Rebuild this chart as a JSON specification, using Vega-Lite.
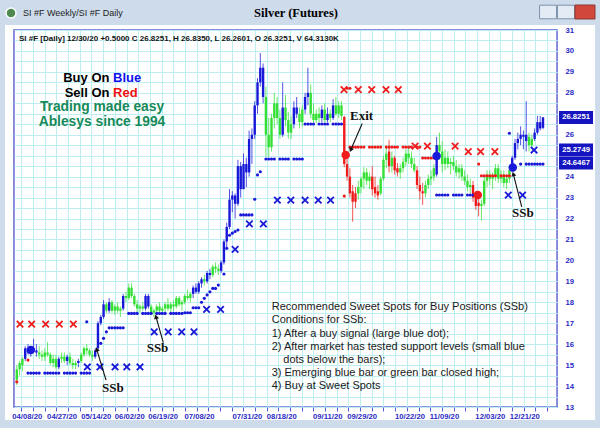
{
"$schema":"https://vega.github.io/schema/vega-lite/v6.json",
"width":543,"height":377,
"autosize":{"type":"none"},
"padding":{"left":14,"top":30,"right":43,"bottom":21},
"background":"#cddbeb",
"view":{"fill":"#ffffff","stroke":"#6e6ed6","strokeWidth":1.5},
"config":{"font":"Liberation Sans"},
"resolve":{"axis":{"x":"independent","y":"independent"}},
"datasets":{
"bars":[
{"i":0,"o":14.3,"h":15.0,"l":14.05,"c":14.8,"k":"g"},
{"i":1,"o":14.8,"h":15.2,"l":14.5,"c":15.1,"k":"g"},
{"i":2,"o":15.0,"h":15.4,"l":14.7,"c":15.3,"k":"g"},
{"i":3,"o":15.3,"h":15.9,"l":15.2,"c":15.8,"k":"b"},
{"i":4,"o":15.8,"h":16.0,"l":15.5,"c":15.6,"k":"b"},
{"i":5,"o":15.6,"h":15.9,"l":15.4,"c":15.8,"k":"b"},
{"i":6,"o":15.8,"h":16.25,"l":15.6,"c":15.7,"k":"b"},
{"i":7,"o":15.7,"h":16.0,"l":15.4,"c":15.6,"k":"b"},
{"i":8,"o":15.6,"h":15.9,"l":15.3,"c":15.5,"k":"g"},
{"i":9,"o":15.5,"h":15.7,"l":15.2,"c":15.4,"k":"g"},
{"i":10,"o":15.4,"h":15.8,"l":15.2,"c":15.6,"k":"g"},
{"i":11,"o":15.6,"h":16.1,"l":15.4,"c":15.5,"k":"g"},
{"i":12,"o":15.5,"h":15.6,"l":15.0,"c":15.1,"k":"g"},
{"i":13,"o":15.1,"h":15.5,"l":14.9,"c":15.3,"k":"g"},
{"i":14,"o":15.3,"h":15.5,"l":14.8,"c":14.9,"k":"g"},
{"i":15,"o":14.9,"h":15.4,"l":14.8,"c":15.3,"k":"b"},
{"i":16,"o":15.3,"h":15.6,"l":15.1,"c":15.4,"k":"g"},
{"i":17,"o":15.4,"h":15.6,"l":15.1,"c":15.2,"k":"g"},
{"i":18,"o":15.2,"h":15.5,"l":15.0,"c":15.4,"k":"b"},
{"i":19,"o":15.4,"h":15.6,"l":15.0,"c":15.1,"k":"g"},
{"i":20,"o":15.1,"h":15.3,"l":14.8,"c":15.0,"k":"g"},
{"i":21,"o":15.0,"h":15.2,"l":14.8,"c":15.1,"k":"g"},
{"i":22,"o":15.1,"h":15.3,"l":14.9,"c":15.2,"k":"b"},
{"i":23,"o":15.2,"h":15.6,"l":15.1,"c":15.5,"k":"g"},
{"i":24,"o":15.5,"h":15.9,"l":15.4,"c":15.8,"k":"g"},
{"i":25,"o":15.8,"h":16.0,"l":15.5,"c":15.7,"k":"g"},
{"i":26,"o":15.7,"h":15.8,"l":15.4,"c":15.5,"k":"g"},
{"i":27,"o":15.5,"h":15.7,"l":15.2,"c":15.4,"k":"g"},
{"i":28,"o":15.4,"h":15.8,"l":15.3,"c":15.7,"k":"b"},
{"i":29,"o":15.8,"h":17.1,"l":15.7,"c":17.0,"k":"b"},
{"i":30,"o":17.0,"h":17.4,"l":16.9,"c":17.3,"k":"b"},
{"i":31,"o":17.3,"h":18.1,"l":17.2,"c":17.9,"k":"b"},
{"i":32,"o":17.9,"h":18.0,"l":17.5,"c":17.6,"k":"g"},
{"i":33,"o":17.6,"h":18.2,"l":17.5,"c":18.0,"k":"b"},
{"i":34,"o":18.0,"h":18.1,"l":17.5,"c":17.6,"k":"g"},
{"i":35,"o":17.6,"h":17.9,"l":17.4,"c":17.8,"k":"g"},
{"i":36,"o":17.8,"h":18.0,"l":17.5,"c":17.6,"k":"g"},
{"i":37,"o":17.6,"h":17.8,"l":17.3,"c":17.7,"k":"g"},
{"i":38,"o":17.7,"h":18.4,"l":17.6,"c":18.3,"k":"b"},
{"i":39,"o":18.3,"h":18.5,"l":18.0,"c":18.2,"k":"g"},
{"i":40,"o":18.2,"h":18.9,"l":18.1,"c":18.7,"k":"g"},
{"i":41,"o":18.7,"h":18.9,"l":18.2,"c":18.3,"k":"g"},
{"i":42,"o":18.3,"h":18.4,"l":17.8,"c":17.9,"k":"g"},
{"i":43,"o":17.9,"h":18.1,"l":17.5,"c":17.7,"k":"g"},
{"i":44,"o":17.7,"h":17.9,"l":17.5,"c":17.8,"k":"g"},
{"i":45,"o":17.8,"h":18.0,"l":17.6,"c":17.7,"k":"g"},
{"i":46,"o":17.7,"h":18.4,"l":17.6,"c":18.3,"k":"b"},
{"i":47,"o":18.3,"h":18.4,"l":17.7,"c":17.8,"k":"b"},
{"i":48,"o":17.8,"h":17.9,"l":17.4,"c":17.5,"k":"g"},
{"i":49,"o":17.5,"h":17.7,"l":17.3,"c":17.6,"k":"g"},
{"i":50,"o":17.6,"h":17.9,"l":17.4,"c":17.8,"k":"g"},
{"i":51,"o":17.8,"h":18.0,"l":17.5,"c":17.6,"k":"g"},
{"i":52,"o":17.6,"h":17.8,"l":17.4,"c":17.7,"k":"g"},
{"i":53,"o":17.7,"h":18.0,"l":17.5,"c":17.9,"k":"g"},
{"i":54,"o":17.9,"h":18.2,"l":17.6,"c":17.7,"k":"g"},
{"i":55,"o":17.7,"h":18.0,"l":17.5,"c":17.9,"k":"g"},
{"i":56,"o":17.9,"h":18.1,"l":17.6,"c":17.8,"k":"g"},
{"i":57,"o":17.8,"h":18.3,"l":17.7,"c":18.2,"k":"g"},
{"i":58,"o":18.2,"h":18.3,"l":17.8,"c":17.9,"k":"g"},
{"i":59,"o":17.9,"h":18.1,"l":17.6,"c":18.0,"k":"g"},
{"i":60,"o":18.0,"h":18.4,"l":17.9,"c":18.3,"k":"g"},
{"i":61,"o":18.3,"h":18.6,"l":18.1,"c":18.2,"k":"g"},
{"i":62,"o":18.2,"h":18.5,"l":18.0,"c":18.4,"k":"g"},
{"i":63,"o":18.4,"h":18.8,"l":18.2,"c":18.7,"k":"b"},
{"i":64,"o":18.7,"h":18.9,"l":18.4,"c":18.5,"k":"b"},
{"i":65,"o":18.5,"h":19.0,"l":18.4,"c":18.9,"k":"b"},
{"i":66,"o":18.9,"h":19.2,"l":18.7,"c":19.1,"k":"b"},
{"i":67,"o":19.1,"h":19.3,"l":18.8,"c":19.0,"k":"g"},
{"i":68,"o":19.0,"h":19.5,"l":18.9,"c":19.4,"k":"b"},
{"i":69,"o":19.4,"h":19.6,"l":19.1,"c":19.3,"k":"b"},
{"i":70,"o":19.3,"h":19.8,"l":19.2,"c":19.7,"k":"g"},
{"i":71,"o":19.7,"h":19.9,"l":19.4,"c":19.6,"k":"g"},
{"i":72,"o":19.6,"h":19.8,"l":19.3,"c":19.5,"k":"g"},
{"i":73,"o":19.5,"h":20.0,"l":19.4,"c":19.9,"k":"b"},
{"i":74,"o":19.9,"h":21.0,"l":19.8,"c":20.9,"k":"b"},
{"i":75,"o":20.9,"h":21.8,"l":20.5,"c":21.6,"k":"b"},
{"i":76,"o":21.6,"h":23.4,"l":21.5,"c":22.9,"k":"b"},
{"i":77,"o":22.9,"h":23.3,"l":22.3,"c":23.1,"k":"b"},
{"i":78,"o":23.1,"h":23.2,"l":22.0,"c":22.7,"k":"b"},
{"i":79,"o":22.7,"h":24.8,"l":22.6,"c":24.5,"k":"b"},
{"i":80,"o":24.5,"h":24.7,"l":23.0,"c":23.4,"k":"b"},
{"i":81,"o":23.4,"h":25.1,"l":23.4,"c":24.6,"k":"b"},
{"i":82,"o":24.6,"h":24.9,"l":23.5,"c":24.2,"k":"b"},
{"i":83,"o":24.2,"h":26.2,"l":24.0,"c":25.8,"k":"b"},
{"i":84,"o":25.8,"h":26.3,"l":24.6,"c":26.0,"k":"b"},
{"i":85,"o":26.0,"h":27.6,"l":25.8,"c":27.4,"k":"b"},
{"i":86,"o":27.4,"h":28.7,"l":27.0,"c":28.5,"k":"b"},
{"i":87,"o":28.5,"h":29.9,"l":28.3,"c":29.2,"k":"b"},
{"i":88,"o":29.2,"h":29.4,"l":27.5,"c":27.8,"k":"b"},
{"i":89,"o":27.8,"h":28.3,"l":24.95,"c":26.0,"k":"g"},
{"i":90,"o":26.0,"h":26.8,"l":24.95,"c":25.4,"k":"g"},
{"i":91,"o":25.4,"h":27.0,"l":25.2,"c":26.8,"k":"g"},
{"i":92,"o":26.8,"h":28.0,"l":26.3,"c":27.5,"k":"g"},
{"i":93,"o":27.5,"h":27.8,"l":26.5,"c":26.8,"k":"g"},
{"i":94,"o":26.8,"h":27.2,"l":25.8,"c":26.0,"k":"g"},
{"i":95,"o":26.0,"h":28.5,"l":25.9,"c":27.3,"k":"b"},
{"i":96,"o":27.3,"h":27.9,"l":26.4,"c":26.7,"k":"g"},
{"i":97,"o":26.7,"h":27.1,"l":25.8,"c":26.1,"k":"g"},
{"i":98,"o":26.1,"h":26.9,"l":25.8,"c":26.5,"k":"g"},
{"i":99,"o":26.5,"h":27.6,"l":26.3,"c":27.3,"k":"b"},
{"i":100,"o":27.3,"h":27.8,"l":26.8,"c":27.0,"k":"b"},
{"i":101,"o":27.0,"h":27.3,"l":26.3,"c":26.6,"k":"g"},
{"i":102,"o":26.6,"h":27.4,"l":26.4,"c":27.2,"k":"g"},
{"i":103,"o":27.2,"h":28.0,"l":27.0,"c":27.8,"k":"b"},
{"i":104,"o":27.8,"h":29.2,"l":27.4,"c":28.0,"k":"b"},
{"i":105,"o":28.0,"h":28.4,"l":26.8,"c":27.0,"k":"g"},
{"i":106,"o":27.0,"h":27.5,"l":26.6,"c":26.7,"k":"g"},
{"i":107,"o":26.7,"h":27.2,"l":26.55,"c":27.0,"k":"g"},
{"i":108,"o":27.0,"h":27.3,"l":26.6,"c":26.8,"k":"g"},
{"i":109,"o":26.8,"h":27.4,"l":26.6,"c":27.2,"k":"b"},
{"i":110,"o":27.2,"h":27.5,"l":26.6,"c":26.7,"k":"g"},
{"i":111,"o":26.7,"h":27.3,"l":26.6,"c":27.0,"k":"b"},
{"i":112,"o":27.0,"h":27.2,"l":26.6,"c":26.8,"k":"g"},
{"i":113,"o":26.8,"h":27.7,"l":26.7,"c":27.4,"k":"b"},
{"i":114,"o":27.4,"h":27.8,"l":26.9,"c":27.0,"k":"g"},
{"i":115,"o":27.0,"h":27.6,"l":26.8,"c":27.4,"k":"g"},
{"i":116,"o":27.4,"h":27.6,"l":26.7,"c":26.9,"k":"g"},
{"i":117,"o":26.85,"h":26.9,"l":24.45,"c":24.6,"k":"r"},
{"i":118,"o":24.6,"h":24.95,"l":23.8,"c":24.0,"k":"r"},
{"i":119,"o":24.0,"h":24.4,"l":23.0,"c":23.2,"k":"r"},
{"i":120,"o":23.3,"h":23.6,"l":21.85,"c":22.8,"k":"r"},
{"i":121,"o":22.8,"h":23.5,"l":22.5,"c":23.2,"k":"r"},
{"i":122,"o":23.2,"h":23.8,"l":22.9,"c":23.5,"k":"g"},
{"i":123,"o":23.5,"h":24.0,"l":23.2,"c":23.9,"k":"g"},
{"i":124,"o":23.9,"h":24.45,"l":23.4,"c":24.2,"k":"g"},
{"i":125,"o":24.2,"h":24.4,"l":23.6,"c":23.8,"k":"g"},
{"i":126,"o":23.8,"h":24.2,"l":23.4,"c":24.0,"k":"g"},
{"i":127,"o":24.0,"h":24.5,"l":23.1,"c":23.4,"k":"r"},
{"i":128,"o":23.5,"h":24.0,"l":23.0,"c":23.2,"k":"r"},
{"i":129,"o":23.3,"h":23.6,"l":22.9,"c":23.1,"k":"r"},
{"i":130,"o":23.2,"h":24.0,"l":23.1,"c":23.9,"k":"g"},
{"i":131,"o":23.9,"h":25.0,"l":23.8,"c":24.8,"k":"g"},
{"i":132,"o":24.8,"h":25.4,"l":24.4,"c":25.1,"k":"g"},
{"i":133,"o":25.2,"h":25.75,"l":24.2,"c":24.5,"k":"r"},
{"i":134,"o":24.5,"h":25.2,"l":24.2,"c":24.9,"k":"g"},
{"i":135,"o":24.9,"h":25.0,"l":24.1,"c":24.3,"k":"r"},
{"i":136,"o":24.4,"h":24.65,"l":24.0,"c":24.2,"k":"r"},
{"i":137,"o":24.2,"h":24.6,"l":23.9,"c":24.4,"k":"g"},
{"i":138,"o":24.4,"h":24.9,"l":24.2,"c":24.7,"k":"g"},
{"i":139,"o":24.7,"h":25.3,"l":24.5,"c":25.1,"k":"g"},
{"i":140,"o":25.1,"h":25.4,"l":24.6,"c":24.9,"k":"g"},
{"i":141,"o":24.9,"h":25.2,"l":24.4,"c":24.6,"k":"g"},
{"i":142,"o":24.6,"h":24.9,"l":24.2,"c":24.3,"k":"g"},
{"i":143,"o":24.3,"h":24.5,"l":23.4,"c":23.6,"k":"r"},
{"i":144,"o":23.6,"h":24.0,"l":22.9,"c":23.3,"k":"r"},
{"i":145,"o":23.3,"h":23.7,"l":22.65,"c":23.2,"k":"r"},
{"i":146,"o":23.2,"h":23.8,"l":23.0,"c":23.6,"k":"g"},
{"i":147,"o":23.6,"h":24.1,"l":23.4,"c":23.9,"k":"g"},
{"i":148,"o":23.9,"h":24.3,"l":23.6,"c":24.0,"k":"g"},
{"i":149,"o":24.0,"h":24.6,"l":23.8,"c":24.4,"k":"g"},
{"i":150,"o":24.1,"h":25.9,"l":24.0,"c":25.5,"k":"b"},
{"i":151,"o":25.5,"h":26.1,"l":24.8,"c":25.2,"k":"g"},
{"i":152,"o":25.2,"h":25.7,"l":24.2,"c":24.6,"k":"g"},
{"i":153,"o":24.6,"h":25.3,"l":24.3,"c":24.9,"k":"g"},
{"i":154,"o":24.9,"h":25.2,"l":24.4,"c":24.6,"k":"g"},
{"i":155,"o":24.6,"h":24.9,"l":24.1,"c":24.7,"k":"g"},
{"i":156,"o":24.7,"h":25.0,"l":24.3,"c":24.5,"k":"g"},
{"i":157,"o":24.5,"h":24.8,"l":24.0,"c":24.2,"k":"g"},
{"i":158,"o":24.2,"h":24.6,"l":23.9,"c":24.4,"k":"g"},
{"i":159,"o":24.4,"h":24.6,"l":23.8,"c":24.0,"k":"g"},
{"i":160,"o":24.0,"h":24.3,"l":23.6,"c":23.8,"k":"g"},
{"i":161,"o":23.8,"h":24.1,"l":23.3,"c":23.5,"k":"g"},
{"i":162,"o":23.5,"h":23.9,"l":23.2,"c":23.6,"k":"g"},
{"i":163,"o":23.6,"h":23.8,"l":22.8,"c":23.0,"k":"r"},
{"i":164,"o":23.0,"h":23.3,"l":22.4,"c":22.6,"k":"r"},
{"i":165,"o":22.6,"h":23.0,"l":22.1,"c":22.75,"k":"r"},
{"i":166,"o":22.6,"h":22.9,"l":21.9,"c":22.7,"k":"g"},
{"i":167,"o":22.7,"h":24.0,"l":22.6,"c":23.8,"k":"g"},
{"i":168,"o":23.8,"h":24.3,"l":23.5,"c":24.1,"k":"g"},
{"i":169,"o":24.1,"h":24.3,"l":23.6,"c":23.9,"k":"g"},
{"i":170,"o":23.9,"h":24.2,"l":23.4,"c":24.0,"k":"g"},
{"i":171,"o":24.0,"h":24.6,"l":23.8,"c":24.4,"k":"g"},
{"i":172,"o":24.4,"h":24.6,"l":23.7,"c":23.9,"k":"g"},
{"i":173,"o":23.9,"h":24.3,"l":23.7,"c":24.1,"k":"g"},
{"i":174,"o":24.1,"h":24.3,"l":23.5,"c":23.7,"k":"g"},
{"i":175,"o":23.7,"h":24.0,"l":23.4,"c":23.9,"k":"g"},
{"i":176,"o":23.9,"h":24.5,"l":23.7,"c":24.3,"k":"g"},
{"i":177,"o":24.3,"h":25.0,"l":24.2,"c":24.9,"k":"b"},
{"i":178,"o":24.9,"h":25.8,"l":24.8,"c":25.6,"k":"b"},
{"i":179,"o":25.6,"h":26.1,"l":25.3,"c":25.8,"k":"b"},
{"i":180,"o":25.8,"h":26.4,"l":25.5,"c":26.0,"k":"b"},
{"i":181,"o":26.0,"h":26.2,"l":25.3,"c":25.9,"k":"b"},
{"i":182,"o":25.7,"h":27.6,"l":25.2,"c":26.0,"k":"b"},
{"i":183,"o":25.9,"h":26.1,"l":25.2,"c":25.5,"k":"g"},
{"i":184,"o":25.5,"h":26.0,"l":25.3,"c":25.8,"k":"g"},
{"i":185,"o":25.8,"h":26.3,"l":25.7,"c":26.1,"k":"b"},
{"i":186,"o":26.1,"h":26.9,"l":26.0,"c":26.6,"k":"b"},
{"i":187,"o":26.6,"h":26.9,"l":26.2,"c":26.3,"k":"b"},
{"i":188,"o":26.33,"h":26.84,"l":26.26,"c":26.83,"k":"b"}
],
"dots":[
{"i":4,"p":14.62,"k":"b"},{"i":5,"p":14.62,"k":"b"},{"i":6,"p":14.62,"k":"b"},{"i":7,"p":14.62,"k":"b"},{"i":8,"p":14.62,"k":"b"},{"i":10,"p":14.62,"k":"b"},{"i":11,"p":14.62,"k":"b"},{"i":12,"p":14.62,"k":"b"},{"i":13,"p":14.62,"k":"b"},{"i":14,"p":14.62,"k":"b"},{"i":15,"p":14.62,"k":"b"},{"i":17,"p":14.62,"k":"b"},{"i":18,"p":14.62,"k":"b"},{"i":19,"p":14.62,"k":"b"},{"i":20,"p":14.62,"k":"b"},{"i":21,"p":14.62,"k":"b"},{"i":23,"p":14.62,"k":"b"},{"i":24,"p":14.62,"k":"b"},{"i":25,"p":14.62,"k":"b"},{"i":26,"p":14.62,"k":"b"},
{"i":25,"p":17.07,"k":"b"},
{"i":30,"p":16.04,"k":"b"},{"i":31,"p":16.28,"k":"b"},{"i":32,"p":16.59,"k":"b"},
{"i":33,"p":16.78,"k":"b"},{"i":34,"p":16.78,"k":"b"},{"i":35,"p":16.78,"k":"b"},{"i":36,"p":16.78,"k":"b"},{"i":37,"p":16.78,"k":"b"},{"i":38,"p":16.78,"k":"b"},
{"i":40,"p":17.47,"k":"b"},{"i":41,"p":17.47,"k":"b"},{"i":42,"p":17.47,"k":"b"},{"i":43,"p":17.47,"k":"b"},{"i":45,"p":17.47,"k":"b"},{"i":46,"p":17.47,"k":"b"},{"i":47,"p":17.47,"k":"b"},{"i":48,"p":17.47,"k":"b"},{"i":50,"p":17.47,"k":"b"},{"i":51,"p":17.47,"k":"b"},{"i":52,"p":17.47,"k":"b"},{"i":53,"p":17.47,"k":"b"},{"i":55,"p":17.47,"k":"b"},{"i":56,"p":17.47,"k":"b"},{"i":57,"p":17.47,"k":"b"},{"i":58,"p":17.47,"k":"b"},{"i":59,"p":17.47,"k":"b"},
{"i":60,"p":17.5,"k":"b"},{"i":61,"p":17.5,"k":"b"},{"i":62,"p":17.5,"k":"b"},{"i":63,"p":17.74,"k":"b"},{"i":64,"p":17.74,"k":"b"},{"i":65,"p":17.74,"k":"b"},
{"i":66,"p":18.0,"k":"b"},{"i":67,"p":18.19,"k":"b"},{"i":68,"p":18.35,"k":"b"},{"i":69,"p":18.5,"k":"b"},{"i":70,"p":18.66,"k":"b"},{"i":71,"p":18.66,"k":"b"},{"i":72,"p":18.82,"k":"b"},{"i":74,"p":19.35,"k":"b"},
{"i":75,"p":20.58,"k":"b"},{"i":76,"p":21.2,"k":"b"},{"i":77,"p":21.3,"k":"b"},{"i":78,"p":21.38,"k":"b"},{"i":79,"p":21.45,"k":"b"},{"i":80,"p":22.17,"k":"b"},{"i":81,"p":22.17,"k":"b"},{"i":82,"p":22.17,"k":"b"},{"i":83,"p":22.17,"k":"b"},{"i":84,"p":22.17,"k":"b"},{"i":85,"p":22.92,"k":"b"},{"i":86,"p":24.08,"k":"b"},{"i":87,"p":24.23,"k":"b"},
{"i":89,"p":24.84,"k":"b"},{"i":90,"p":24.84,"k":"b"},{"i":91,"p":24.84,"k":"b"},{"i":92,"p":24.84,"k":"b"},{"i":94,"p":24.84,"k":"b"},{"i":95,"p":24.84,"k":"b"},{"i":96,"p":24.84,"k":"b"},{"i":97,"p":24.84,"k":"b"},{"i":99,"p":24.84,"k":"b"},{"i":100,"p":24.84,"k":"b"},{"i":101,"p":24.84,"k":"b"},{"i":102,"p":24.84,"k":"b"},
{"i":103,"p":26.51,"k":"b"},{"i":104,"p":26.51,"k":"b"},{"i":105,"p":26.51,"k":"b"},{"i":106,"p":26.51,"k":"b"},{"i":108,"p":26.51,"k":"b"},{"i":109,"p":26.51,"k":"b"},{"i":110,"p":26.51,"k":"b"},{"i":111,"p":26.51,"k":"b"},{"i":113,"p":26.51,"k":"b"},{"i":114,"p":26.51,"k":"b"},{"i":115,"p":26.51,"k":"b"},{"i":116,"p":26.51,"k":"b"},
{"i":150,"p":23.12,"k":"b"},{"i":151,"p":23.12,"k":"b"},{"i":152,"p":23.12,"k":"b"},{"i":153,"p":23.12,"k":"b"},{"i":154,"p":23.12,"k":"b"},{"i":156,"p":23.12,"k":"b"},{"i":157,"p":23.12,"k":"b"},{"i":158,"p":23.12,"k":"b"},{"i":159,"p":23.12,"k":"b"},{"i":161,"p":23.12,"k":"b"},{"i":162,"p":23.12,"k":"b"},{"i":163,"p":23.12,"k":"b"},
{"i":180,"p":24.6,"k":"b"},{"i":182,"p":24.6,"k":"b"},{"i":183,"p":24.6,"k":"b"},{"i":184,"p":24.6,"k":"b"},{"i":185,"p":24.6,"k":"b"},{"i":186,"p":24.6,"k":"b"},{"i":187,"p":24.6,"k":"b"},{"i":188,"p":24.6,"k":"b"},
{"i":176,"p":26.07,"k":"b"},
{"i":0,"p":14.2,"k":"r"},{"i":4,"p":15.24,"k":"r"},{"i":117,"p":23.07,"k":"r"},{"i":118,"p":28.22,"k":"r"},{"i":119,"p":28.22,"k":"r"},
{"i":119,"p":25.41,"k":"r"},{"i":120,"p":25.41,"k":"r"},{"i":121,"p":25.41,"k":"r"},{"i":122,"p":25.41,"k":"r"},{"i":123,"p":25.41,"k":"r"},{"i":124,"p":25.41,"k":"r"},{"i":126,"p":25.41,"k":"r"},{"i":127,"p":25.41,"k":"r"},{"i":128,"p":25.41,"k":"r"},{"i":129,"p":25.41,"k":"r"},{"i":130,"p":25.41,"k":"r"},{"i":132,"p":25.41,"k":"r"},{"i":133,"p":25.41,"k":"r"},{"i":134,"p":25.41,"k":"r"},{"i":135,"p":25.41,"k":"r"},{"i":136,"p":25.41,"k":"r"},{"i":138,"p":25.41,"k":"r"},{"i":139,"p":25.41,"k":"r"},{"i":140,"p":25.41,"k":"r"},{"i":141,"p":25.41,"k":"r"},{"i":143,"p":25.41,"k":"r"},{"i":144,"p":25.41,"k":"r"},
{"i":145,"p":24.89,"k":"r"},{"i":146,"p":24.89,"k":"r"},{"i":147,"p":24.89,"k":"r"},{"i":148,"p":24.89,"k":"r"},{"i":149,"p":24.89,"k":"r"},
{"i":165,"p":24.6,"k":"r"},
{"i":166,"p":24.04,"k":"r"},{"i":167,"p":24.04,"k":"r"},{"i":168,"p":24.04,"k":"r"},{"i":169,"p":24.04,"k":"r"},{"i":170,"p":24.04,"k":"r"},{"i":171,"p":24.04,"k":"r"},{"i":173,"p":24.04,"k":"r"},{"i":174,"p":24.04,"k":"r"},{"i":175,"p":24.04,"k":"r"},{"i":176,"p":24.04,"k":"r"}
],
"xs":[
{"i":25.2,"p":14.91,"k":"b"},{"i":29.7,"p":14.91,"k":"b"},{"i":35.1,"p":14.91,"k":"b"},{"i":39.3,"p":14.91,"k":"b"},{"i":44.0,"p":14.91,"k":"b"},
{"i":49.1,"p":16.59,"k":"b"},{"i":54.1,"p":16.59,"k":"b"},{"i":58.9,"p":16.59,"k":"b"},{"i":63.3,"p":16.59,"k":"b"},
{"i":67.8,"p":17.66,"k":"b"},{"i":72.8,"p":17.66,"k":"b"},{"i":78.0,"p":20.53,"k":"b"},{"i":83.1,"p":21.74,"k":"b"},{"i":88.1,"p":21.74,"k":"b"},
{"i":93.1,"p":22.88,"k":"b"},{"i":97.9,"p":22.88,"k":"b"},{"i":103.0,"p":22.88,"k":"b"},{"i":107.7,"p":22.88,"k":"b"},{"i":112.1,"p":22.88,"k":"b"},
{"i":175.6,"p":23.12,"k":"b"},{"i":180.7,"p":23.12,"k":"b"},{"i":184.8,"p":25.27,"k":"b"},
{"i":1.14,"p":16.96,"k":"r"},{"i":5.3,"p":16.96,"k":"r"},{"i":10.3,"p":16.96,"k":"r"},{"i":15.2,"p":16.96,"k":"r"},{"i":20.2,"p":16.96,"k":"r"},
{"i":116.9,"p":28.15,"k":"r"},{"i":122.0,"p":28.15,"k":"r"},{"i":126.8,"p":28.15,"k":"r"},{"i":131.9,"p":28.15,"k":"r"},{"i":136.3,"p":28.15,"k":"r"},
{"i":142.3,"p":25.46,"k":"r"},{"i":146.7,"p":25.46,"k":"r"},{"i":156.6,"p":25.46,"k":"r"},
{"i":161.3,"p":25.19,"k":"r"},{"i":165.7,"p":25.19,"k":"r"},{"i":170.8,"p":25.19,"k":"r"}
],
"big":[
{"i":5,"p":15.72,"k":"b"},{"i":117.5,"p":25.03,"k":"r"},{"i":150,"p":24.98,"k":"b"},{"i":164.7,"p":23.12,"k":"r"},{"i":177.2,"p":24.44,"k":"b"}
],
"levels":[{"v":26.8251,"t":"26.8251"},{"v":25.2749,"t":"25.2749"},{"v":24.6467,"t":"24.6467"}],
"arrows":[
{"a":31.87,"b":14.29,"c":28.55,"d":15.75,"ang":343},
{"a":52.34,"b":16.07,"c":49.73,"d":17.31,"ang":344},
{"a":180.4,"b":22.56,"c":177.4,"d":24.12,"ang":345.6},
{"a":123.4,"b":26.54,"c":119.3,"d":25.27,"ang":203.5}
],
"notes":[
{"t":"Exit","i":123.2,"p":26.88},{"t":"SSb","i":34.3,"p":13.9},{"t":"SSb","i":50.27,"p":15.81},{"t":"SSb","i":180.8,"p":22.25}
]
},
"layer":[
{"data":{"values":[{}]},"mark":{"type":"rect","color":"#ffffff"},"encoding":{"x":{"datum":-4.215,"type":"quantitative","scale":{"domain":[-1,193],"nice":false,"zero":false},"axis":null},"x2":{"datum":206.6},"y":{"datum":31.048,"type":"quantitative","scale":{"domain":[13,31],"nice":false,"zero":false},"axis":null},"y2":{"datum":31.24}}},
{"data":{"values":[{}]},"mark":{"type":"rect","color":"#ffffff"},"encoding":{"x":{"datum":-4.215,"type":"quantitative","axis":null},"x2":{"datum":206.6},"y":{"datum":12.375,"type":"quantitative","axis":null},"y2":{"datum":12.95}}},
{"data":{"values":[{}]},"mark":{"type":"rect","color":"#ffffff"},"encoding":{"x":{"datum":-4.215,"type":"quantitative","axis":null},"x2":{"datum":-1.36},"y":{"datum":12.375,"type":"quantitative","axis":null},"y2":{"datum":31.24}}},
{"data":{"values":[{}]},"mark":{"type":"rect","color":"#ffffff"},"encoding":{"x":{"datum":193.36,"type":"quantitative","axis":null},"x2":{"datum":206.6},"y":{"datum":12.375,"type":"quantitative","axis":null},"y2":{"datum":31.24}}},
{"data":{"name":"bars"},"mark":{"type":"rule","strokeWidth":1,"opacity":0.75},
 "encoding":{
  "x":{"field":"i","type":"quantitative","scale":{"domain":[-1,193],"nice":false,"zero":false},
   "axis":{"orient":"top","values":[1.64,5.82,9.99,14.16,18.34,22.51,26.68,30.86,35.03,39.2,43.37,47.55,51.72,55.89,60.07,64.24,68.41,72.59,76.76,80.93,85.1,89.28,93.45,97.62,101.8,105.97,110.14,114.32,118.49,122.66,126.83,131.01,135.18,139.35,143.53,147.7,151.87,156.05,160.22,164.39,168.56,172.74,176.91,181.08,185.26,189.43],"grid":true,"gridColor":"#bdeff2","gridWidth":1,"gridOpacity":1,"labels":false,"ticks":false,"domain":false,"title":null,"zindex":0}},
  "y":{"field":"l","type":"quantitative","scale":{"domain":[13,31],"nice":false,"zero":false},
   "axis":{"orient":"left","values":[13,13.5,14,14.5,15,15.5,16,16.5,17,17.5,18,18.5,19,19.5,20,20.5,21,21.5,22,22.5,23,23.5,24,24.5,25,25.5,26,26.5,27,27.5,28,28.5,29,29.5,30,30.5,31],"grid":true,"gridColor":"#bdeff2","gridWidth":1,"gridOpacity":1,"labels":false,"ticks":false,"domain":false,"title":null,"zindex":0}},
  "y2":{"field":"h"},
  "color":{"field":"k","type":"nominal","scale":{"domain":["b","g","r"],"range":["#1818d8","#35e035","#f01c1c"]},"legend":null}}},
{"data":{"name":"bars"},"mark":{"type":"rule","strokeWidth":2.4},
 "encoding":{
  "x":{"field":"i","type":"quantitative",
   "axis":{"orient":"bottom","values":[1.64,5.82,9.99,14.16,18.34,22.51,26.68,30.86,35.03,39.2,43.37,47.55,51.72,55.89,60.07,64.24,68.41,72.59,76.76,80.93,85.1,89.28,93.45,97.62,101.8,105.97,110.14,114.32,118.49,122.66,126.83,131.01,135.18,139.35,143.53,147.7,151.87,156.05,160.22,164.39,168.56,172.74,176.91,181.08,185.26,189.43],"grid":false,"labels":false,"ticks":true,"tickSize":4,"tickWidth":1,"tickColor":"#5a5ad0","domain":false,"title":null,"zindex":1}},
  "y":{"field":"o","type":"quantitative",
   "axis":{"orient":"right","values":[13,14,15,16,17,18,19,20,21,22,23,24,26,28,29,30,31],"format":"d","grid":false,"ticks":false,"tickSize":0,"domain":false,"labelFont":"Liberation Sans","labelFontSize":7.7,"labelFontWeight":"bold","labelColor":"#2a2ac6","labelPadding":8,"labelAlign":"left","labelBaseline":"middle","title":null,"zindex":1}},
  "y2":{"field":"c"},
  "color":{"field":"k","type":"nominal","scale":{"domain":["b","g","r"],"range":["#1818d8","#35e035","#f01c1c"]},"legend":null}}},
{"data":{"name":"dots"},"mark":{"type":"circle","size":10,"opacity":1},
 "encoding":{
  "x":{"field":"i","type":"quantitative",
   "axis":{"orient":"bottom","values":[3.57,16.0,28.2,40.2,52.1,65.1,82.2,94.5,110.9,123.2,140.3,152.6,169.0,181.3],
   "labelExpr":"datum.value < 10 ? '04/08/20' : datum.value < 22 ? '04/27/20' : datum.value < 34 ? '05/14/20' : datum.value < 46 ? '06/02/20' : datum.value < 58 ? '06/19/20' : datum.value < 75 ? '07/08/20' : datum.value < 88 ? '07/31/20' : datum.value < 100 ? '08/18/20' : datum.value < 117 ? '09/11/20' : datum.value < 130 ? '09/29/20' : datum.value < 146 ? '10/22/20' : datum.value < 160 ? '11/09/20' : datum.value < 175 ? '12/03/20' : '12/21/20'",
   "grid":false,"ticks":false,"tickSize":0,"domain":false,"labelFont":"Liberation Sans","labelFontSize":7.7,"labelFontWeight":"bold","labelColor":"#2a2ac6","labelPadding":5.5,"labelFlush":false,"labelOverlap":false,"labelAlign":"center","labelBaseline":"top","title":null,"zindex":1}},
  "y":{"field":"p","type":"quantitative","axis":null},
  "color":{"field":"k","type":"nominal","scale":{"domain":["b","g","r"],"range":["#1818d8","#35e035","#f01c1c"]},"legend":null}}},
{"data":{"name":"xs"},"mark":{"type":"point","shape":"M-1,-1L1,1M1,-1L-1,1","filled":false,"size":42,"strokeWidth":1.8,"opacity":1},
 "encoding":{"x":{"field":"i","type":"quantitative","axis":null},"y":{"field":"p","type":"quantitative","axis":null},
  "color":{"field":"k","type":"nominal","scale":{"domain":["b","g","r"],"range":["#1818d8","#35e035","#f01c1c"]},"legend":null}}},
{"data":{"name":"big"},"mark":{"type":"circle","size":72,"opacity":1},
 "encoding":{"x":{"field":"i","type":"quantitative","axis":null},"y":{"field":"p","type":"quantitative","axis":null},
  "color":{"field":"k","type":"nominal","scale":{"domain":["b","g","r"],"range":["#1818d8","#35e035","#f01c1c"]},"legend":null}}},
{"data":{"name":"levels"},"mark":{"type":"point","shape":"M-1,-0.38L1,-0.38L1,0.38L-1,0.38Z","filled":true,"size":1156,"color":"#1414c0","opacity":1},
 "encoding":{"x":{"datum":199.8,"type":"quantitative","axis":null},"y":{"field":"v","type":"quantitative","axis":null}}},
{"data":{"name":"levels"},"mark":{"type":"text","color":"#ffffff","font":"Liberation Sans","fontSize":7.7,"fontWeight":"bold","align":"center","baseline":"middle"},
 "encoding":{"x":{"datum":199.8,"type":"quantitative","axis":null},"y":{"field":"v","type":"quantitative","axis":null},"text":{"field":"t"}}},
{"data":{"name":"arrows"},"mark":{"type":"rule","color":"#111111","strokeWidth":1.1},
 "encoding":{"x":{"field":"a","type":"quantitative","axis":null},"y":{"field":"b","type":"quantitative","axis":null},"x2":{"field":"c"},"y2":{"field":"d"}}},
{"data":{"name":"arrows"},"mark":{"type":"point","shape":"triangle-up","filled":true,"size":26,"color":"#111111","opacity":1},
 "encoding":{"x":{"field":"c","type":"quantitative","axis":null},"y":{"field":"d","type":"quantitative","axis":null},"angle":{"field":"ang","type":"quantitative","scale":null}}},
{"data":{"name":"notes"},"mark":{"type":"text","font":"Liberation Serif","fontSize":13,"fontWeight":"bold","color":"#111111","align":"center","baseline":"middle"},
 "encoding":{"x":{"field":"i","type":"quantitative","axis":null},"y":{"field":"p","type":"quantitative","axis":null},"text":{"field":"t"}}},
{"data":{"values":[{}]},"mark":{"type":"text","text":"Buy On","align":"right","baseline":"middle","font":"Liberation Sans","fontSize":13,"fontWeight":"bold","color":"#000000"},
 "encoding":{"x":{"datum":33.1,"type":"quantitative","axis":null},"y":{"datum":28.71,"type":"quantitative","axis":null}}},
{"data":{"values":[{}]},"mark":{"type":"text","text":"Blue","align":"left","dx":3.6,"baseline":"middle","font":"Liberation Sans","fontSize":13,"fontWeight":"bold","color":"#1010f0"},
 "encoding":{"x":{"datum":33.1,"type":"quantitative","axis":null},"y":{"datum":28.71,"type":"quantitative","axis":null}}},
{"data":{"values":[{}]},"mark":{"type":"text","text":"Sell On","align":"right","baseline":"middle","font":"Liberation Sans","fontSize":13,"fontWeight":"bold","color":"#000000"},
 "encoding":{"x":{"datum":33.1,"type":"quantitative","axis":null},"y":{"datum":28.015,"type":"quantitative","axis":null}}},
{"data":{"values":[{}]},"mark":{"type":"text","text":"Red","align":"left","dx":3.6,"baseline":"middle","font":"Liberation Sans","fontSize":13,"fontWeight":"bold","color":"#f01010"},
 "encoding":{"x":{"datum":33.1,"type":"quantitative","axis":null},"y":{"datum":28.015,"type":"quantitative","axis":null}}},
{"data":{"values":[{}]},"mark":{"type":"text","text":"Trading made easy","align":"center","baseline":"middle","font":"Liberation Sans","fontSize":13.8,"fontWeight":"bold","color":"#17895a"},
 "encoding":{"x":{"datum":30.44,"type":"quantitative","axis":null},"y":{"datum":27.32,"type":"quantitative","axis":null}}},
{"data":{"values":[{}]},"mark":{"type":"text","text":"Ablesys since 1994","align":"center","baseline":"middle","font":"Liberation Sans","fontSize":13.8,"fontWeight":"bold","color":"#17895a"},
 "encoding":{"x":{"datum":30.44,"type":"quantitative","axis":null},"y":{"datum":26.61,"type":"quantitative","axis":null}}},
{"data":{"values":[{}]},"mark":{"type":"text","text":"SI #F [Daily] 12/30/20 +0.5000 C 26.8251, H 26.8350, L 26.2601, O 26.3251, V 64.3130K","align":"left","baseline":"middle","font":"Liberation Sans","fontSize":8,"fontWeight":"bold","color":"#111111"},
 "encoding":{"x":{"datum":0.79,"type":"quantitative","axis":null},"y":{"datum":30.55,"type":"quantitative","axis":null}}},
{"data":{"values":[{}]},"mark":{"type":"text","text":["Recommended Sweet Spots for Buy Positions (SSb)","Conditions for SSb:","1) After a buy signal (large blue dot);","2) After market has tested support levels (small blue"],"align":"left","baseline":"top","font":"Liberation Sans","fontSize":11,"lineHeight":13.05,"color":"#1a1a1a"},
 "encoding":{"x":{"datum":91.07,"type":"quantitative","axis":null},"y":{"datum":18.04,"type":"quantitative","axis":null}}},
{"data":{"values":[{}]},"mark":{"type":"text","text":"dots below the bars);","align":"left","baseline":"top","font":"Liberation Sans","fontSize":11,"color":"#1a1a1a"},
 "encoding":{"x":{"datum":95.2,"type":"quantitative","axis":null},"y":{"datum":15.547,"type":"quantitative","axis":null}}},
{"data":{"values":[{}]},"mark":{"type":"text","text":["3) Emerging blue bar or green bar closed high;","4) Buy at Sweet Spots"],"align":"left","baseline":"top","font":"Liberation Sans","fontSize":11,"lineHeight":13.05,"color":"#1a1a1a"},
 "encoding":{"x":{"datum":91.07,"type":"quantitative","axis":null},"y":{"datum":14.924,"type":"quantitative","axis":null}}},
{"data":{"values":[{}]},"mark":{"type":"text","text":"Silver (Futures)","align":"center","baseline":"middle","font":"Liberation Serif","fontSize":12.5,"fontWeight":"bold","color":"#000000"},
 "encoding":{"x":{"datum":99.75,"type":"quantitative","axis":null},"y":{"datum":31.81,"type":"quantitative","axis":null}}},
{"data":{"values":[{}]},"mark":{"type":"text","text":"SI #F Weekly/SI #F Daily","align":"left","baseline":"middle","font":"Liberation Sans","fontSize":9,"color":"#1e1e1e"},
 "encoding":{"x":{"datum":2.22,"type":"quantitative","axis":null},"y":{"datum":31.81,"type":"quantitative","axis":null}}},
{"data":{"values":[{}]},"mark":{"type":"point","shape":"circle","filled":true,"size":100,"color":"#4e8a4e","stroke":"#ffffff","strokeWidth":1.5,"opacity":1},
 "encoding":{"x":{"datum":-2.07,"type":"quantitative","axis":null},"y":{"datum":31.81,"type":"quantitative","axis":null}}},
{"data":{"values":[{}]},"mark":{"type":"point","shape":"M-1,-0.8L1,-0.8L1,0.8L-1,0.8Z","filled":true,"size":289,"color":"#e3ebf5","stroke":"#7f93ad","strokeWidth":1,"opacity":1},
 "encoding":{"x":{"datum":189.8,"type":"quantitative","axis":null},"y":{"datum":31.86,"type":"quantitative","axis":null}}},
{"data":{"values":[{}]},"mark":{"type":"point","shape":"M-1,-0.8L1,-0.8L1,0.8L-1,0.8Z","filled":true,"size":289,"color":"#e3ebf5","stroke":"#7f93ad","strokeWidth":1,"opacity":1},
 "encoding":{"x":{"datum":196.2,"type":"quantitative","axis":null},"y":{"datum":31.86,"type":"quantitative","axis":null}}},
{"data":{"values":[{}]},"mark":{"type":"point","shape":"M-1,-0.7L1,-0.7L1,0.7L-1,0.7Z","filled":true,"size":400,"color":"#d2473b","stroke":"#8a3a33","strokeWidth":1,"opacity":1},
 "encoding":{"x":{"datum":203.0,"type":"quantitative","axis":null},"y":{"datum":31.86,"type":"quantitative","axis":null}}}
]
}
